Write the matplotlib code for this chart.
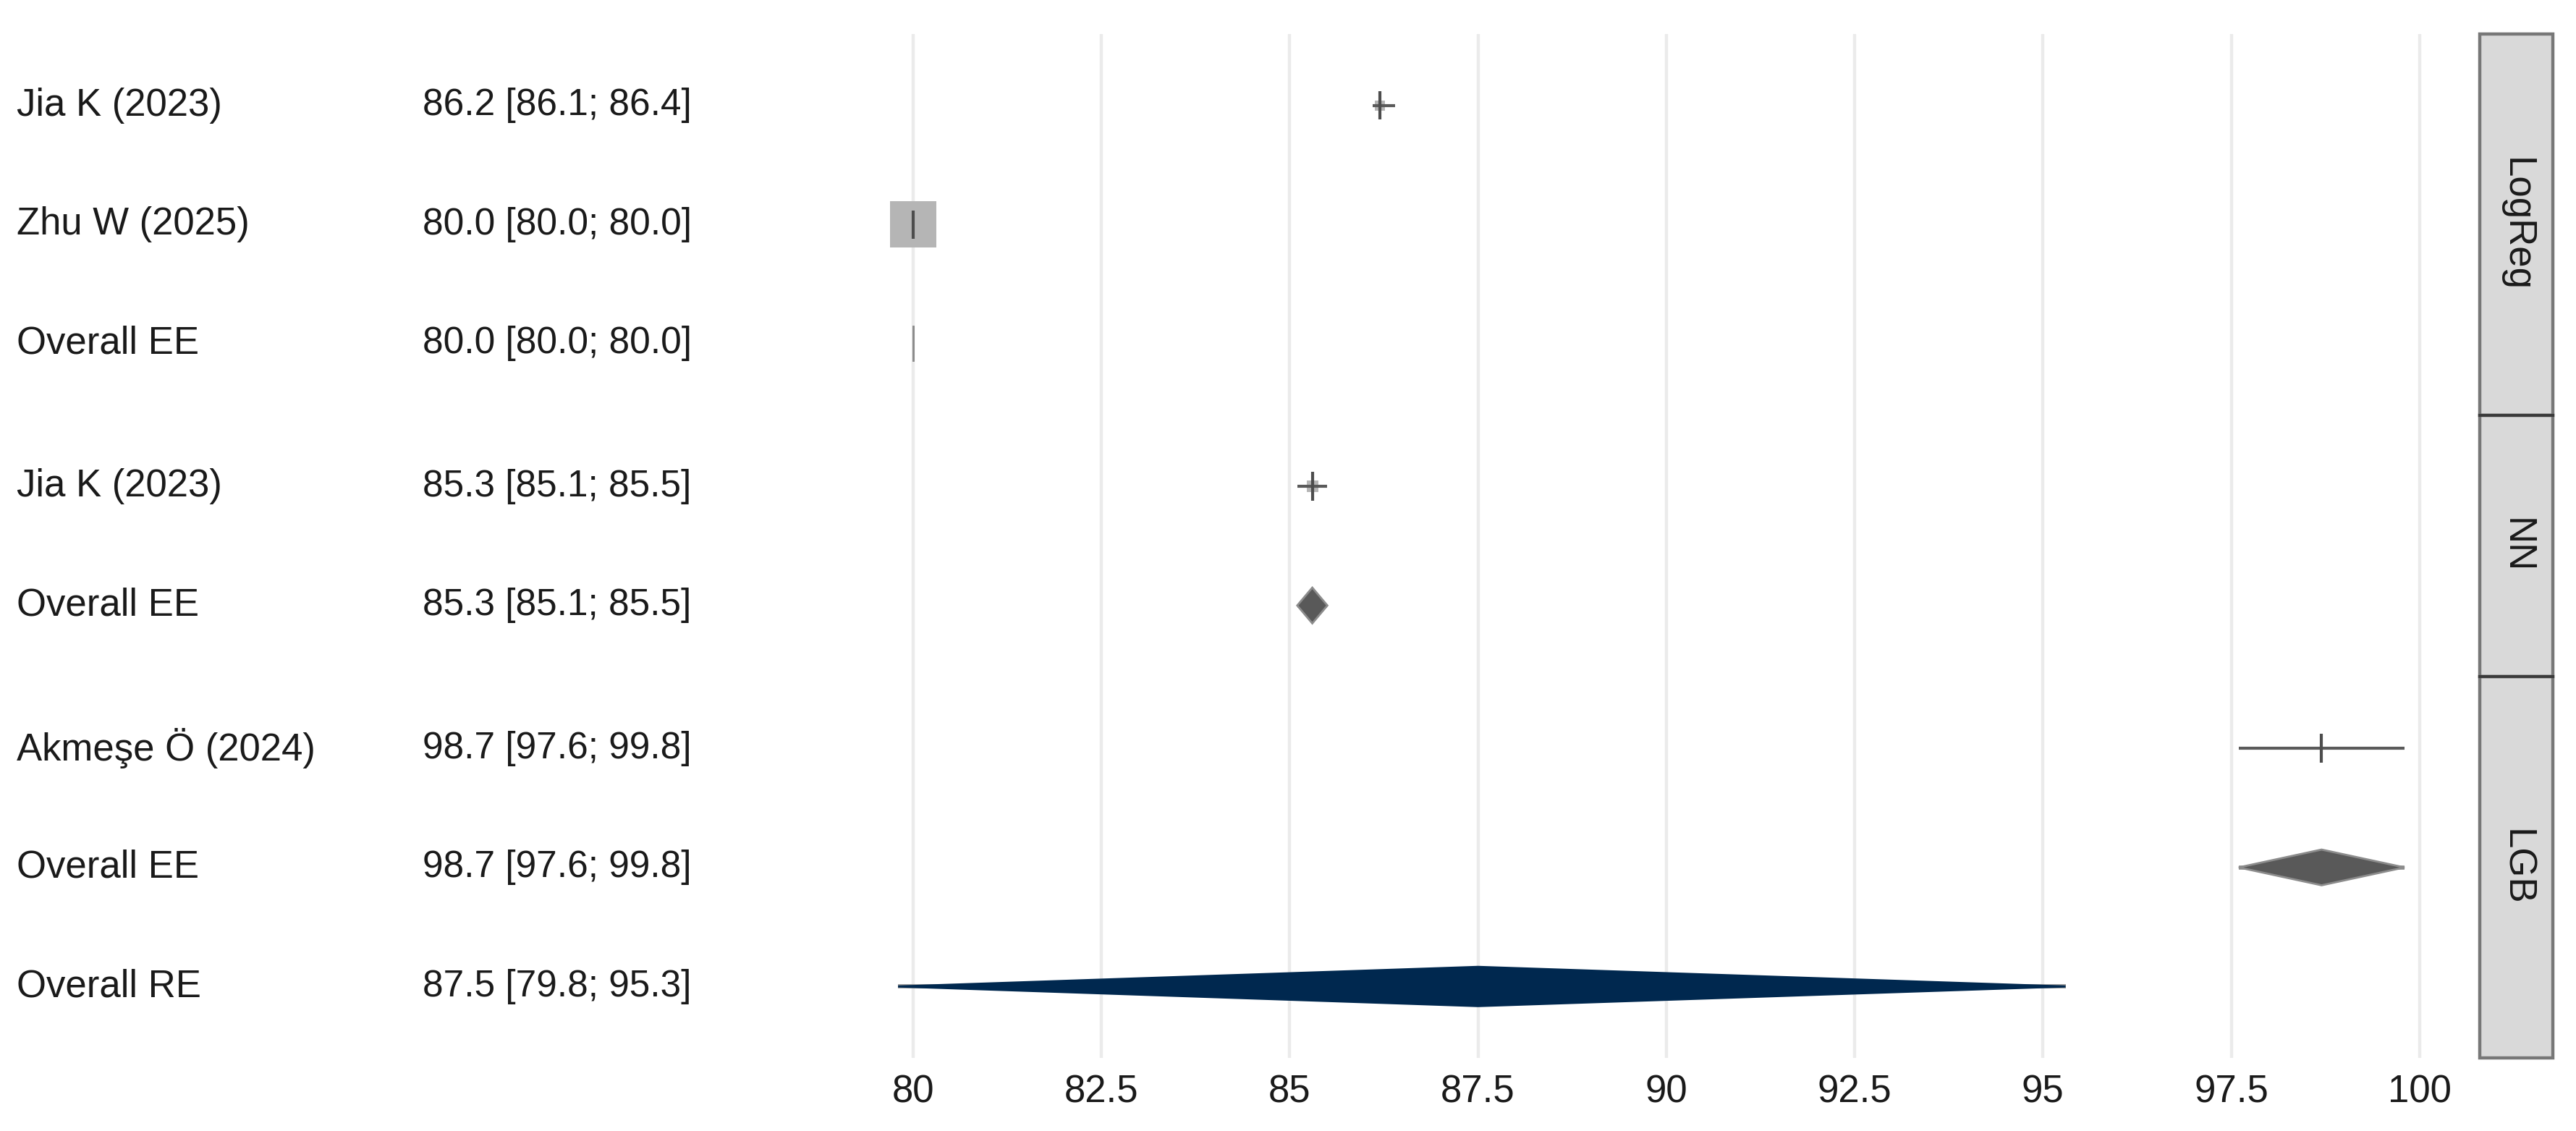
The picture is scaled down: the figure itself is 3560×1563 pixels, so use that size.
import numpy as np
import matplotlib
matplotlib.use("Agg")
import matplotlib.pyplot as plt
from matplotlib.patches import Polygon, Rectangle
from matplotlib.transforms import blended_transform_factory

plt.rcParams['font.family'] = ['Liberation Sans', 'DejaVu Sans']

# Forest plot data (accuracy, %)
groups = ["LogReg", "NN", "LGB"]
row_labels = ["Jia K (2023)", "Zhu W (2025)", "Overall EE",
              "Jia K (2023)", "Overall EE",
              "Akmeşe Ö (2024)", "Overall EE", "Overall RE"]
row_group = ["LogReg", "LogReg", "LogReg", "NN", "NN", "LGB", "LGB", "LGB"]
row_type = ["study", "study", "EE", "study", "EE", "study", "EE", "RE"]
est = [86.2, 80.0, 80.0, 85.3, 85.3, 98.7, 98.7, 87.5]
lower = [86.1, 80.0, 80.0, 85.1, 85.1, 97.6, 97.6, 79.8]
upper = [86.4, 80.0, 80.0, 85.5, 85.5, 99.8, 99.8, 95.3]
weight = [4.5, 95.0, 0.0, 5.5, 0.0, 0.3, 0.0, 0.0]   # study weights (%)
x_ticks = [80, 82.5, 85, 87.5, 90, 92.5, 95, 97.5, 100]

# row positions: one unit per row, 0.6 padding inside each group panel
pad = 0.6
ypos = [0.0] * len(row_labels)
bounds = [0.0]
y = 0.0
for g in groups:
    idx = [i for i, r in enumerate(row_group) if r == g]
    for k, i in enumerate(idx):
        ypos[i] = y + pad + k
    y += 2 * pad + len(idx) - 1
    bounds.append(y)

W, H = 3560, 1563
fig = plt.figure(figsize=(W / 200, H / 200), dpi=200)
left, right, top, bottom = 1137, 3427, 47, 1462
ax = fig.add_axes([left / W, 1 - bottom / H, (right - left) / W, (bottom - top) / H])
sax = fig.add_axes([right / W, 1 - bottom / H, 101 / W, (bottom - top) / H])

ax.set_xlim(78.8, 100.8)
ax.set_ylim(bounds[-1], 0)
ax.set_xticks(x_ticks)
ax.set_xticklabels([f"{t:g}" for t in x_ticks])
ax.set_yticks([])
ax.tick_params(axis='x', length=0, pad=8, labelsize=19, labelcolor='#1a1a1a')
ax.grid(axis='x', color='#ebebeb', linewidth=1.6)
ax.set_axisbelow(True)
for s in ax.spines.values():
    s.set_visible(False)

ee_h = 0.30
re_h = 0.33
tick_h = 0.12
for i in range(len(row_labels)):
    yy = ypos[i]
    if row_type[i] == "study":
        if weight[i] > 0:
            side = 23 * np.sqrt(weight[i] / 95.0)
            ax.scatter([est[i]], [yy], marker='s', s=side ** 2, color='#b5b5b5',
                       linewidths=0, zorder=2)
        ax.plot([lower[i], upper[i]], [yy, yy], color='#5a5a5a', lw=1.5,
                solid_capstyle='butt', zorder=3)
        ax.plot([est[i], est[i]], [yy - tick_h, yy + tick_h], color='#4d4d4d',
                lw=1.5, solid_capstyle='butt', zorder=4)
    else:
        h = ee_h if row_type[i] == "EE" else re_h
        fc = '#595959' if row_type[i] == "EE" else '#00284F'
        ec = '#8c8c8c' if row_type[i] == "EE" else fc
        ax.plot([lower[i], upper[i]], [yy, yy], color='#8a8a8a', lw=2.0,
                solid_capstyle='butt', zorder=3)
        diamond = Polygon([[lower[i], yy], [est[i], yy - h / 2],
                           [upper[i], yy], [est[i], yy + h / 2]],
                          closed=True, facecolor=fc, edgecolor=ec, lw=1.0, zorder=4)
        ax.add_patch(diamond)

# text columns on the left
tr = blended_transform_factory(fig.transFigure, ax.transData)
for i in range(len(row_labels)):
    ax.text(23 / W, ypos[i], row_labels[i], transform=tr, ha='left', va='center',
            fontsize=19, color='#1a1a1a')
    ax.text(584 / W, ypos[i], f"{est[i]:.1f} [{lower[i]:.1f}; {upper[i]:.1f}]",
            transform=tr, ha='left', va='center', fontsize=18.5, color='#1a1a1a')

# facet strips on the right
sax.set_xlim(0, 1)
sax.set_ylim(bounds[-1], 0)
sax.axis('off')
for k, g in enumerate(groups):
    b0, b1 = bounds[k], bounds[k + 1]
    sax.add_patch(Rectangle((0, b0), 1, b1 - b0, facecolor='#d9d9d9',
                            edgecolor='#777777', lw=1.6, clip_on=False))
    sax.text(0.5, (b0 + b1) / 2, g, rotation=-90, ha='center', va='center',
             fontsize=19, color='#1a1a1a')
for b in bounds[1:-1]:
    sax.plot([0, 1], [b, b], color='#3a3a3a', lw=1.5, clip_on=False)

fig.savefig("out.png", dpi=200)
